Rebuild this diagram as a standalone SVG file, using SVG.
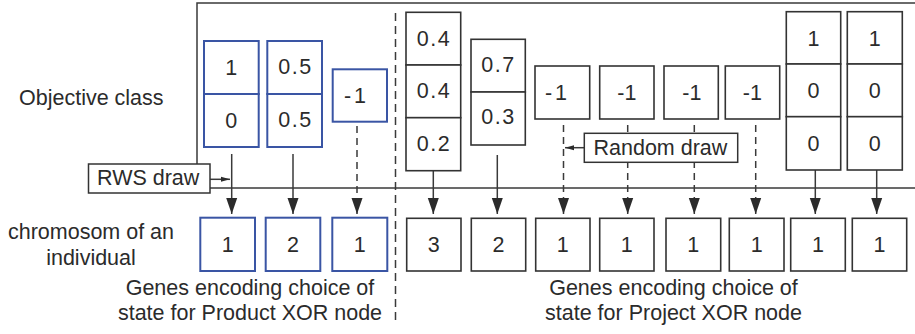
<svg xmlns="http://www.w3.org/2000/svg" width="915" height="334" viewBox="0 0 915 334">
<defs>
<style>
text{font-family:"Liberation Sans",Arial,sans-serif;font-size:21.5px;fill:#2b2b2b}
.c{text-anchor:middle}
.ls{letter-spacing:1.5px}
.bb{fill:#fff;stroke:#3a55a4;stroke-width:2}
.kb{fill:#fff;stroke:#333;stroke-width:1.6}
.ln{stroke:#3a3a3a;stroke-width:1.5;fill:none}
.dl{stroke:#3a3a3a;stroke-width:1.5;fill:none;stroke-dasharray:7,5}
</style>
<marker id="ah" viewBox="0 0 16 12" refX="16" refY="6" markerWidth="16" markerHeight="12" markerUnits="userSpaceOnUse" orient="auto">
<path d="M0,0.5 L16,6 L0,11.5 z" fill="#2b2b2b"/>
</marker>
<marker id="sa" viewBox="0 0 9 6" refX="9" refY="3" markerWidth="9" markerHeight="6" markerUnits="userSpaceOnUse" orient="auto">
<path d="M0,0.5 L9,3 L0,5.5 z" fill="#2b2b2b"/>
</marker>
</defs>

<g id="frame">
<rect x="197" y="3" width="730" height="185" fill="none" stroke="#3a3a3a" stroke-width="1.5"/>
<line x1="395.5" y1="13" x2="395.5" y2="322" stroke="#3a3a3a" stroke-width="1.5" stroke-dasharray="8,5"/>
</g>

<g id="connectors">
<line class="ln" x1="231.7" y1="154" x2="231.7" y2="214" marker-end="url(#ah)"/>
<line class="ln" x1="293" y1="154" x2="293" y2="214" marker-end="url(#ah)"/>
<line class="dl" x1="357" y1="126" x2="357" y2="214" marker-end="url(#ah)"/>
<line class="ln" x1="433.3" y1="171" x2="433.3" y2="214" marker-end="url(#ah)"/>
<line class="ln" x1="497.3" y1="155" x2="497.3" y2="214" marker-end="url(#ah)"/>
<line class="dl" x1="563.5" y1="125" x2="563.5" y2="214" marker-end="url(#ah)"/>
<line class="dl" x1="627.7" y1="125" x2="627.7" y2="214" marker-end="url(#ah)"/>
<line class="dl" x1="694.3" y1="125" x2="694.3" y2="214" marker-end="url(#ah)"/>
<line class="dl" x1="755.7" y1="125" x2="755.7" y2="214" marker-end="url(#ah)"/>
<line class="ln" x1="815.3" y1="170" x2="815.3" y2="214" marker-end="url(#ah)"/>
<line class="ln" x1="876.7" y1="170" x2="876.7" y2="214" marker-end="url(#ah)"/>
<line class="ln" x1="210" y1="179.3" x2="230" y2="179.3" marker-end="url(#sa)"/>
<line class="ln" x1="584" y1="147.7" x2="565" y2="147.7" marker-end="url(#sa)"/>
</g>

<g id="labels">
<text x="19" y="105">Objective class</text>
<text class="c" x="91" y="239">chromosom of an</text>
<text class="c" x="91" y="265">individual</text>
<text class="c" x="250" y="295">Genes encoding choice of</text>
<text class="c" x="250" y="320">state for Product XOR node</text>
<text class="c" x="673.5" y="295">Genes encoding choice of</text>
<text class="c" x="673.5" y="320">state for Project XOR node</text>
</g>

<g id="rws-draw">
<rect x="88.5" y="164" width="121.5" height="29" fill="#fff" stroke="#333" stroke-width="1.5"/>
<text x="97" y="185">RWS draw</text>
</g>

<g id="random-draw">
<rect x="584.3" y="133.3" width="153.4" height="29" fill="#fff" stroke="#333" stroke-width="1.5"/>
<text x="593.5" y="155">Random draw</text>
</g>

<g id="obj-p1">
<rect class="bb" x="204" y="41" width="54.7" height="53"/>
<rect class="bb" x="204" y="94" width="54.7" height="53"/>
<text class="c" x="231.3" y="75">1</text>
<text class="c" x="231.3" y="128">0</text>
</g>
<g id="obj-p2">
<rect class="bb" x="267.3" y="41" width="54.7" height="53"/>
<rect class="bb" x="267.3" y="94" width="54.7" height="53"/>
<text class="c ls" x="295.5" y="74">0.5</text>
<text class="c ls" x="295.5" y="127">0.5</text>
</g>
<g id="obj-p3">
<rect class="bb" x="332.7" y="69.3" width="54.3" height="52.4"/>
<text class="c" x="356.5" y="103" letter-spacing="3">-1</text>
</g>

<g id="obj-a">
<rect class="kb" x="406" y="12.3" width="54.7" height="52.7"/>
<rect class="kb" x="406" y="65" width="54.7" height="52.7"/>
<rect class="kb" x="406" y="117.7" width="54.7" height="53"/>
<text class="c ls" x="434" y="46">0.4</text>
<text class="c ls" x="434" y="98">0.4</text>
<text class="c ls" x="434" y="151">0.2</text>
</g>
<g id="obj-b">
<rect class="kb" x="471" y="39.3" width="54.3" height="52.7"/>
<rect class="kb" x="471" y="92" width="54.3" height="53"/>
<text class="c ls" x="498.5" y="72">0.7</text>
<text class="c ls" x="498.5" y="124">0.3</text>
</g>
<g id="obj-c">
<rect class="kb" x="535" y="66" width="54.7" height="53"/>
<text class="c" x="557.5" y="100" letter-spacing="3">-1</text>
</g>
<g id="obj-d">
<rect class="kb" x="599.7" y="66" width="54.3" height="53"/>
<text class="c" x="626.8" y="100">-1</text>
</g>
<g id="obj-e">
<rect class="kb" x="664" y="66" width="54.3" height="53"/>
<text class="c" x="691.8" y="100">-1</text>
</g>
<g id="obj-f">
<rect class="kb" x="725.3" y="66" width="54.4" height="53"/>
<text class="c" x="752.3" y="100">-1</text>
</g>
<g id="obj-g">
<rect class="kb" x="786.3" y="11.7" width="54.4" height="52.3"/>
<rect class="kb" x="786.3" y="64" width="54.4" height="52.7"/>
<rect class="kb" x="786.3" y="116.7" width="54.4" height="53.3"/>
<text class="c" x="813.5" y="46">1</text>
<text class="c" x="813.5" y="98">0</text>
<text class="c" x="813.5" y="151">0</text>
</g>
<g id="obj-h">
<rect class="kb" x="847.3" y="11.7" width="55" height="52.3"/>
<rect class="kb" x="847.3" y="64" width="55" height="52.7"/>
<rect class="kb" x="847.3" y="116.7" width="55" height="53.3"/>
<text class="c" x="874.8" y="46">1</text>
<text class="c" x="874.8" y="98">0</text>
<text class="c" x="874.8" y="151">0</text>
</g>

<g id="gene-p1">
<rect class="bb" x="200.3" y="217.7" width="54.7" height="53.3"/>
<text class="c" x="227.7" y="252">1</text>
</g>
<g id="gene-p2">
<rect class="bb" x="265.7" y="217.7" width="54.6" height="53.3"/>
<text class="c" x="293" y="252">2</text>
</g>
<g id="gene-p3">
<rect class="bb" x="332.3" y="217.7" width="55" height="53.3"/>
<text class="c" x="359.8" y="252">1</text>
</g>
<g id="gene-a">
<rect class="kb" x="406.7" y="218.3" width="54.3" height="52.7"/>
<text class="c" x="433.8" y="252">3</text>
</g>
<g id="gene-b">
<rect class="kb" x="471.3" y="218.3" width="54.4" height="52.7"/>
<text class="c" x="498.5" y="252">2</text>
</g>
<g id="gene-c">
<rect class="kb" x="535.7" y="218.3" width="54.3" height="52.7"/>
<text class="c" x="562.8" y="252">1</text>
</g>
<g id="gene-d">
<rect class="kb" x="599.7" y="218.3" width="54.3" height="52.7"/>
<text class="c" x="626.8" y="252">1</text>
</g>
<g id="gene-e">
<rect class="kb" x="666" y="218.3" width="54.7" height="52.7"/>
<text class="c" x="693.3" y="252">1</text>
</g>
<g id="gene-f">
<rect class="kb" x="729.3" y="218.3" width="54.7" height="52.7"/>
<text class="c" x="756.7" y="252">1</text>
</g>
<g id="gene-g">
<rect class="kb" x="790.7" y="218.3" width="54.6" height="52.7"/>
<text class="c" x="818" y="252">1</text>
</g>
<g id="gene-h">
<rect class="kb" x="852.3" y="218.3" width="54.4" height="52.7"/>
<text class="c" x="879.5" y="252">1</text>
</g>
</svg>
